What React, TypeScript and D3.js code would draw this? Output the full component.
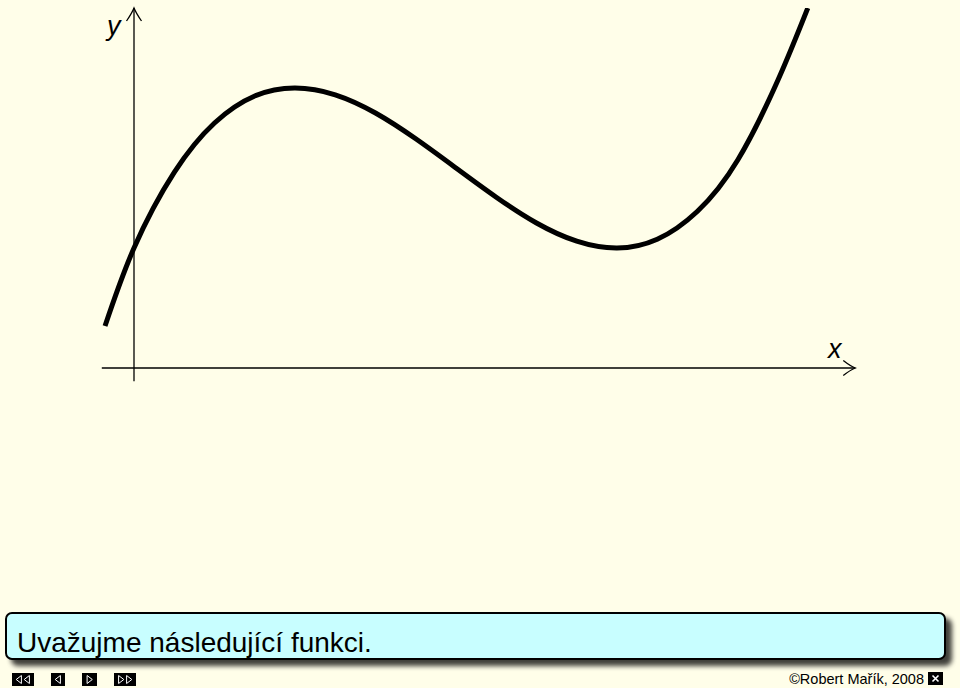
import React from "react";
import * as d3 from "d3";

// Points (math units: x unit = 80.5px, y unit = 40px)
const curveX = [-0.36, 0, 0.5, 1, 1.5, 2, 2.5, 3, 3.5, 4, 4.5, 5, 5.5, 6, 6.5, 7, 7.5, 8, 8.37];
const curveY = [1.05, 3.0, 4.89, 6.125, 6.8, 7.0, 6.83, 6.375, 5.73, 5.0, 4.27, 3.625, 3.17, 3.0, 3.22, 3.92, 5.2, 7.2, 9.0];
const xAxisExtent = [-0.4, 8.96];
const yAxisExtent = [-0.33, 9.0];
const axisLabels = ["x", "y"];
const caption = "Uvažujme následující funkci.";
const copyright = "\u00A9Robert Mařík, 2008";
const navButtons = ["first", "prev", "next", "last"];

const W = 960;
const H = 688;
const BG = "#fffee9";
const BOX = "#c8feff";
const FONT = "'Liberation Sans', Arial, Helvetica, sans-serif";

export default function App() {
  const x = d3.scaleLinear().domain([0, 1]).range([134, 214.5]);
  const y = d3.scaleLinear().domain([0, 1]).range([368, 328]);

  const pts: [number, number][] = curveX.map((v, i) => [v, curveY[i]]);
  const line = d3
    .line<[number, number]>()
    .x((d) => x(d[0]))
    .y((d) => y(d[1]))
    .curve(d3.curveNatural);

  const x0 = x(xAxisExtent[0]);
  const x1 = x(xAxisExtent[1]);
  const yA = y(0);
  const xA = x(0);
  const y0 = y(yAxisExtent[0]);
  const y1 = y(yAxisExtent[1]);

  // arrowheads (LaTeX-like chevrons)
  const xArrow = `M${x1 - 12},${yA - 7.5} Q${x1 - 5},${yA - 2} ${x1},${yA} Q${x1 - 5},${yA + 2} ${x1 - 12},${yA + 7.5}`;
  const yArrow = `M${xA - 7.5},${y1 + 13} Q${xA - 2},${y1 + 5} ${xA},${y1} Q${xA + 2},${y1 + 5} ${xA + 7.5},${y1 + 13}`;

  const btnDefs = [
    { x: 12, w: 22 },
    { x: 51, w: 14 },
    { x: 82, w: 15 },
    { x: 114, w: 22 },
  ];
  const by = 673;
  const bh = 13;

  const tri = (cx: number, cy: number, dir: number) => {
    const s = 4;
    return dir < 0
      ? `M${cx + s * 0.6},${cy - s} L${cx - s * 0.7},${cy} L${cx + s * 0.6},${cy + s} Z`
      : `M${cx - s * 0.6},${cy - s} L${cx + s * 0.7},${cy} L${cx - s * 0.6},${cy + s} Z`;
  };

  return (
    <div style={{ position: "fixed", left: 0, top: 0, width: W, height: H }}>
      <svg width={W} height={H} style={{ display: "block" }}>
        <defs>
          <clipPath id="plotclip">
            <rect x={0} y={8} width={W} height={H} />
          </clipPath>
          <filter id="shadow" x="-5%" y="-30%" width="115%" height="170%">
            <feGaussianBlur in="SourceAlpha" stdDeviation="2.5" />
            <feOffset dx="6" dy="6" result="ob" />
            <feComponentTransfer>
              <feFuncA type="linear" slope="0.75" />
            </feComponentTransfer>
            <feMerge>
              <feMergeNode />
              <feMergeNode in="SourceGraphic" />
            </feMerge>
          </filter>
        </defs>
        <rect x={0} y={0} width={W} height={H} fill={BG} />

        {/* axes */}
        <line x1={x0} y1={yA} x2={x1} y2={yA} stroke="#000" strokeWidth={1.3} />
        <line x1={xA} y1={y0} x2={xA} y2={y1} stroke="#000" strokeWidth={1.3} />
        <path d={xArrow} fill="none" stroke="#000" strokeWidth={1.3} />
        <path d={yArrow} fill="none" stroke="#000" strokeWidth={1.3} />
        <text x={828} y={358} fontFamily={FONT} fontStyle="italic" fontSize={27} fill="#000">
          {axisLabels[0]}
        </text>
        <text x={107} y={35} fontFamily={FONT} fontStyle="italic" fontSize={27} fill="#000">
          {axisLabels[1]}
        </text>

        {/* curve */}
        <g clipPath="url(#plotclip)">
          <path d={line(pts) || ""} fill="none" stroke="#000" strokeWidth={5} strokeLinecap="butt" />
        </g>

        {/* caption box */}
        <rect x={6} y={613} width={939} height={46} rx={6} ry={6} fill={BOX} stroke="#000" strokeWidth={2} filter="url(#shadow)" />
        <text x={17} y={652} fontFamily={FONT} fontSize={28} fill="#000">
          {caption}
        </text>

        {/* navigation buttons */}
        {navButtons.map((name, i) => {
          const b = btnDefs[i];
          const cy = by + bh / 2;
          const cx = b.x + b.w / 2;
          let tris: string[] = [];
          if (name === "first") tris = [tri(cx - 4, cy, -1), tri(cx + 4, cy, -1)];
          if (name === "prev") tris = [tri(cx, cy, -1)];
          if (name === "next") tris = [tri(cx, cy, 1)];
          if (name === "last") tris = [tri(cx - 4, cy, 1), tri(cx + 4, cy, 1)];
          return (
            <g key={name}>
              <rect x={b.x} y={by} width={b.w} height={bh} fill="#000" />
              {tris.map((d, k) => (
                <path key={k} d={d} fill="none" stroke="#fff" strokeWidth={1} />
              ))}
            </g>
          );
        })}

        {/* copyright */}
        <text x={924} y={684} textAnchor="end" fontFamily={FONT} fontSize={14.5} fill="#000">
          {copyright}
        </text>
        <rect x={928} y={672} width={15} height={13} fill="#000" />
        <path d="M932.5,675.5 L938.5,681.5 M938.5,675.5 L932.5,681.5" stroke="#fff" strokeWidth={1.6} />
      </svg>
    </div>
  );
}
